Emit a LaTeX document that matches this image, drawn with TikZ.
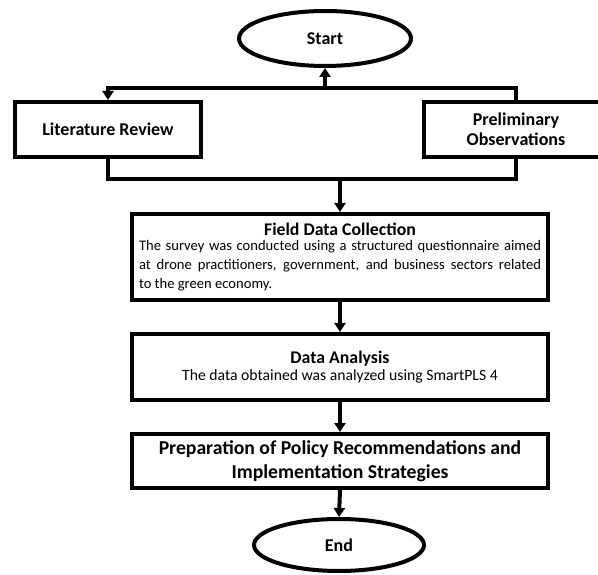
\documentclass[tikz,border=0pt]{standalone}
\usepackage{fontspec}
\setmainfont{Carlito}
\usetikzlibrary{shapes.geometric,arrows.meta}
\begin{document}
\begin{tikzpicture}[x=1pt,y=-1pt,
  box/.style={draw,line width=4pt,rectangle,align=center,inner sep=0pt},
  term/.style={draw,line width=4pt,ellipse,inner sep=0pt,font=\fontsize{18}{20}\selectfont\bfseries},
  conn/.style={line width=4pt},
  arr/.style={line width=4pt,-{Triangle[width=11pt,length=9pt]}}]
\useasboundingbox (0,0) rectangle (598,575);
\begin{scope}
\clip (0,0) rectangle (598,575);
\node[term,minimum width=172pt,minimum height=55pt] (start) at (325,38.5) {Start};
\node[term,minimum width=170pt,minimum height=52pt] (end) at (339,545) {End};
\node[box,minimum width=186pt,minimum height=55pt,font=\fontsize{18}{20}\selectfont\bfseries] (lit) at (108,129.5) {Literature Review};
\node[box,minimum width=184pt,minimum height=55pt,font=\fontsize{18}{20}\selectfont\bfseries] (pre) at (516,129.5) {Preliminary\\Observations};
\node[box,minimum width=416pt,minimum height=86pt] (field) at (340,257) {%
  {\fontsize{17.8}{19}\selectfont\bfseries Field Data Collection}\\[3pt]
  \parbox{402pt}{\fontsize{14.6}{19}\selectfont The survey was conducted using a structured questionnaire aimed\linebreak at drone practitioners, government, and business sectors related\linebreak to the green economy.}};
\node[box,minimum width=416pt,minimum height=66pt] (data) at (340,367) {%
  {\fontsize{17.8}{20}\selectfont\bfseries Data Analysis}\\[2pt]
  {\fontsize{15.7}{19}\selectfont The data obtained was analyzed using SmartPLS 4}};
\node[box,minimum width=416pt,minimum height=54pt,font=\fontsize{19.7}{24}\selectfont\bfseries] (prep) at (340,461) {Preparation of Policy Recommendations and\\Implementation Strategies};
\end{scope}
\coordinate (top) at (325,88);
\coordinate (bot) at (340,179);
\draw[conn] (lit.south) |- (bot) -| (pre.south);
\draw[arr] (bot) -- (field.north);
\draw[conn] (pre.north) |- (top);
\draw[arr] (top) -| (lit.north);
\draw[arr] (top) -- (start.south);
\draw[arr] (field.south) -- (data.north);
\draw[arr] (data.south) -- (prep.north);
\draw[arr] (prep.south) -- (end.north);
\end{tikzpicture}
\end{document}
